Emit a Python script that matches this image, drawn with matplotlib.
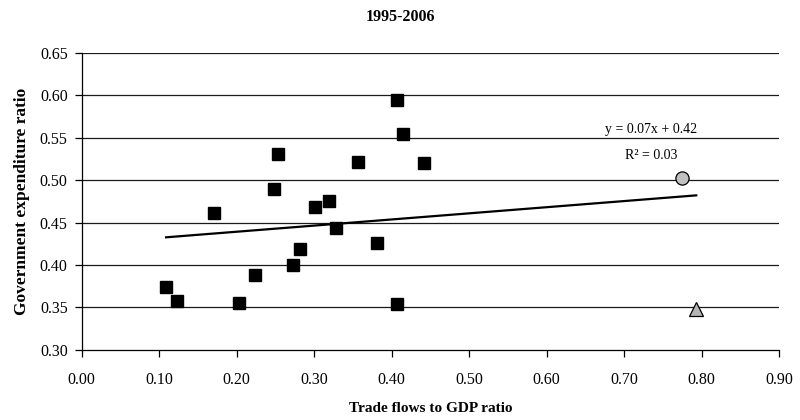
import numpy as np
import matplotlib
matplotlib.use("Agg")
import matplotlib.pyplot as plt

plt.rcParams['font.family'] = ['Liberation Serif', 'DejaVu Serif']

# ---------------- DATA ----------------
# 18 countries (black squares)
trade = [0.109, 0.123, 0.171, 0.203, 0.224, 0.248, 0.254, 0.2725, 0.2815,
         0.301, 0.319, 0.328, 0.357, 0.381, 0.407, 0.407, 0.4145, 0.4415]
gov = [0.3745, 0.358, 0.4615, 0.3557, 0.3886, 0.490, 0.5314, 0.400, 0.4188,
       0.468, 0.4753, 0.4432, 0.522, 0.4255, 0.595, 0.3545, 0.555, 0.5204]
# two highlighted points
circle_pt = (0.774, 0.5024)
triangle_pt = (0.793, 0.348)

xticks = [0.0, 0.1, 0.2, 0.3, 0.4, 0.5, 0.6, 0.7, 0.8, 0.9]
yticks = [0.30, 0.35, 0.40, 0.45, 0.50, 0.55, 0.60, 0.65]

# ---------------- TREND (all points) ----------------
allx = np.array(trade + [circle_pt[0], triangle_pt[0]])
ally = np.array(gov + [circle_pt[1], triangle_pt[1]])
slope, icpt = np.polyfit(allx, ally, 1)
r2 = np.corrcoef(allx, ally)[0, 1] ** 2

fig = plt.figure(figsize=(8, 4.2), dpi=100)
ax = fig.add_axes([0.102, 0.167, 0.872, 0.707])

for y in yticks[1:]:
    ax.axhline(y, color='#1a1a1a', lw=0.9, zorder=1)

lx = np.array([allx.min(), allx.max()])
ax.plot(lx, slope * lx + icpt, color='black', lw=1.6, zorder=2)

ax.plot(trade, gov, 's', color='black', ms=8, zorder=3)
ax.plot(*circle_pt, 'o', mfc='#c0c0c0', mec='black', mew=0.9, ms=9.5, zorder=3)
ax.plot(*triangle_pt, '^', mfc='#b4b4b4', mec='black', mew=0.9, ms=10, zorder=3)

ax.text(0.735, 0.560, f"y = {slope:.2f}x + {icpt:.2f}", ha='center', va='center', fontsize=10)
ax.text(0.735, 0.5294, f"R\u00b2 = {r2:.2f}", ha='center', va='center', fontsize=10)

ax.set_xlim(0, 0.9)
ax.set_ylim(0.30, 0.65)
ax.set_xticks(xticks)
ax.set_yticks(yticks)
ax.set_xticklabels([f"{v:.2f}" for v in xticks], fontsize=11.5)
ax.set_yticklabels([f"{v:.2f}" for v in yticks], fontsize=11.5)
ax.tick_params(direction='out', length=5, width=0.9, color='black')
ax.tick_params(axis='x', pad=11)
ax.tick_params(axis='y', pad=5)
ax.spines['top'].set_visible(False)
ax.spines['right'].set_visible(False)
for s in ('left', 'bottom'):
    ax.spines[s].set_linewidth(0.9)

ax.set_xlabel("Trade flows to GDP ratio", fontsize=11, fontweight='bold', labelpad=10)
ax.set_ylabel("Government expenditure ratio", fontsize=12.5, fontweight='bold', labelpad=7)
fig.suptitle("1995-2006", fontsize=11.5, fontweight='bold', y=0.96, va='center')

plt.savefig("out.png", dpi=100)
